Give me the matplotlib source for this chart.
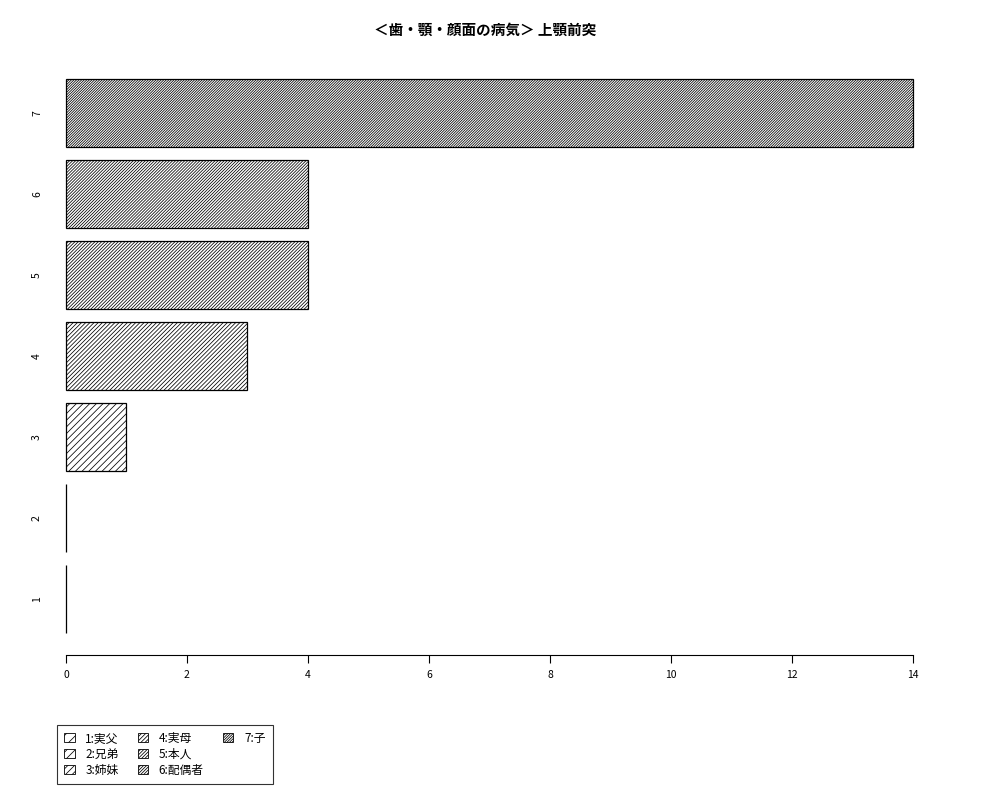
import numpy as np
import matplotlib.pyplot as plt
from matplotlib.patches import Patch

plt.rcParams['font.family'] = ['Noto Sans CJK JP', 'DejaVu Sans']
plt.rcParams['hatch.linewidth'] = 0.55

# data
categories = ['1', '2', '3', '4', '5', '6', '7']
values = [0, 0, 1, 3, 4, 4, 14]
legend_labels = ['1:実父', '2:兄弟', '3:姉妹', '4:実母', '5:本人', '6:配偶者', '7:子']
hatches = ['/' * 3, '/' * 4, '/' * 5, '/' * 8, '/' * 10, '/' * 11, '/' * 13]
title = '＜歯・顎・顔面の病気＞ 上顎前突'

fig = plt.figure(figsize=(10, 8), dpi=100)
ax = fig.add_axes([0.032, 0.181, 0.915, 0.748])

pos = 0.7 + 1.2 * np.arange(len(values))
bars = ax.barh(pos, values, height=1.0, color='white', edgecolor='black',
               linewidth=0.9)
for b, h in zip(bars, hatches):
    b.set_hatch(h)

ax.set_xlim(-0.56, 14.56)
ax.set_ylim(-0.128, 8.728)
ax.set_xticks(np.arange(0, 15, 2))
ax.set_yticks([])
ax.tick_params(axis='x', labelsize=7.5, length=6, width=0.8, pad=5)
for p, c in zip(pos, categories):
    ax.text(0.0055, p, c, rotation=90, ha='center', va='center',
            fontsize=7.5, transform=ax.get_yaxis_transform())
for s in ['top', 'right', 'left']:
    ax.spines[s].set_visible(False)
ax.spines['bottom'].set_bounds(0, 14)
ax.spines['bottom'].set_linewidth(0.8)

fig.text(0.485, 0.963, title, ha='center', va='center', fontsize=10.5,
         fontweight='bold')

handles = [Patch(facecolor='white', edgecolor='black', hatch=h, linewidth=0.6)
           for h in hatches]
labels = list(legend_labels)
# two blank entries so the columns fill 3, 3, 1 like the original
for _ in range(2):
    handles.append(Patch(visible=False))
    labels.append('')
leg = fig.legend(handles, labels, ncol=3, loc='upper left',
                 bbox_to_anchor=(0.057, 0.094), fontsize=8.5, frameon=True,
                 fancybox=False, edgecolor='black', handlelength=0.9,
                 handleheight=0.8, handletextpad=0.9, columnspacing=1.6,
                 labelspacing=0.25, borderpad=0.6, borderaxespad=0)
leg.get_frame().set_linewidth(0.8)

fig.savefig('out.png', dpi=100)
